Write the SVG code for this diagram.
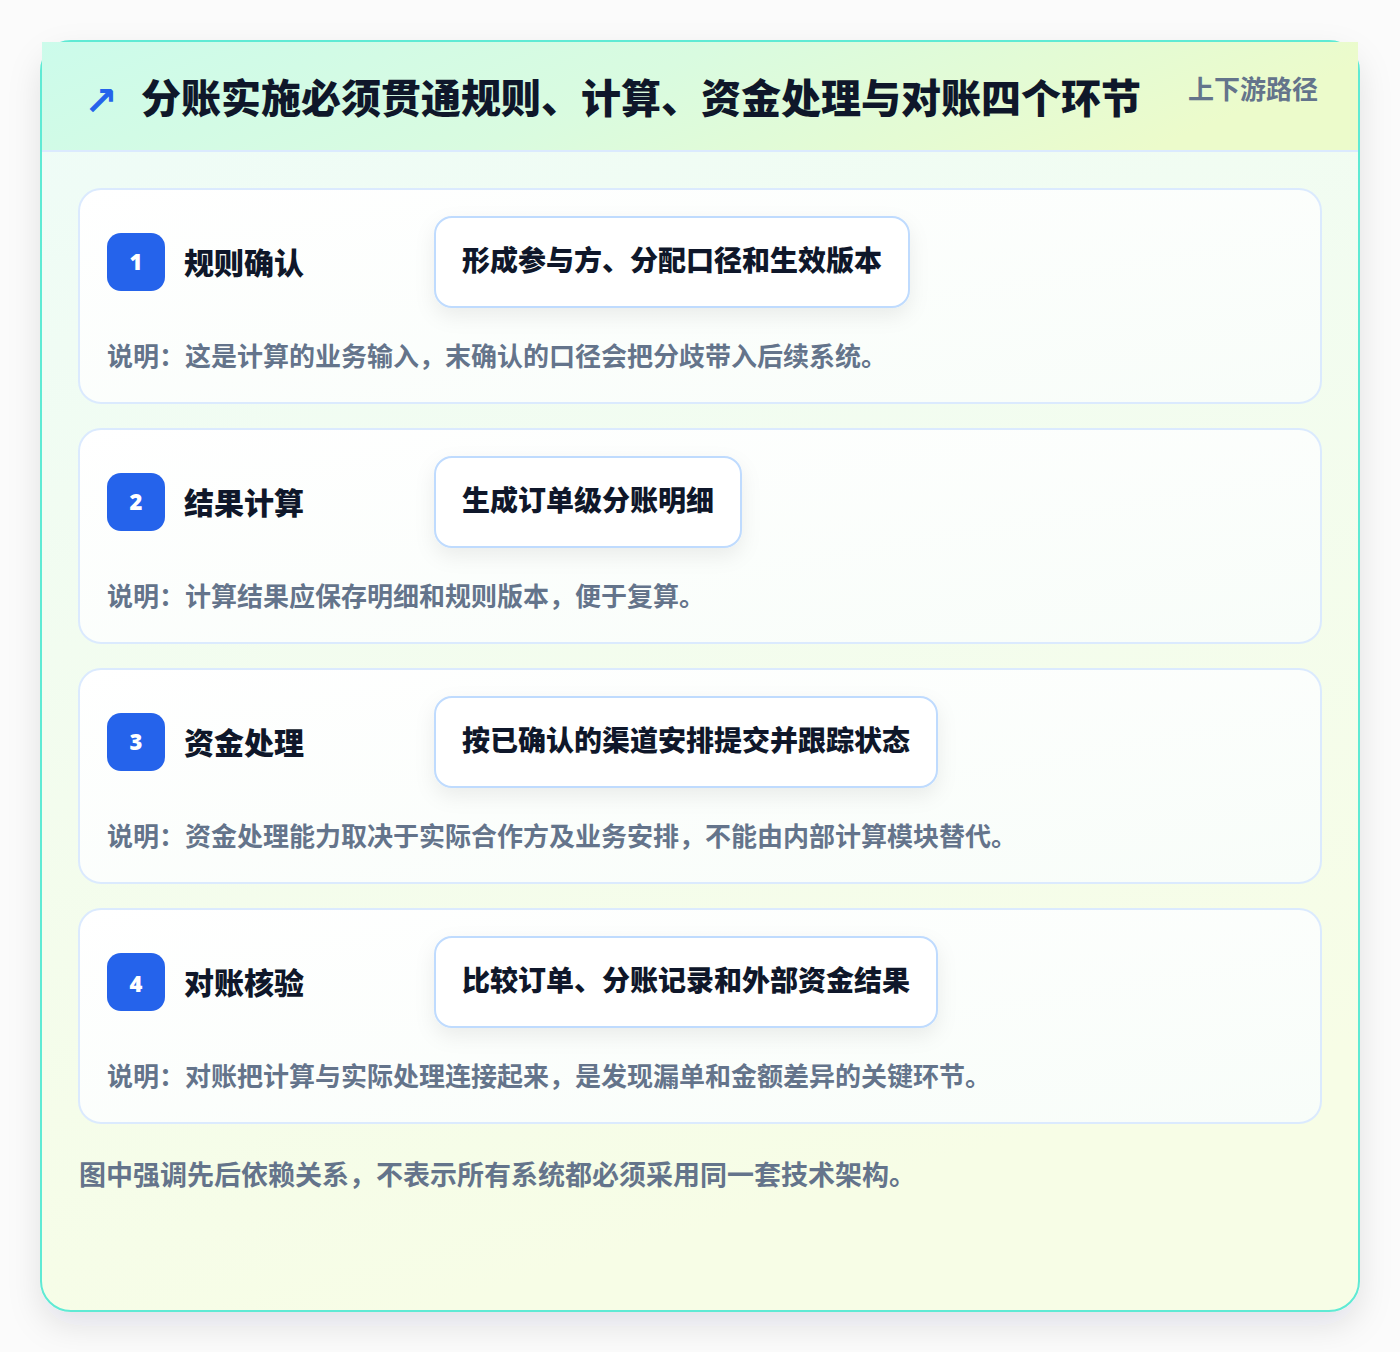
<svg xmlns="http://www.w3.org/2000/svg" width="1400" height="1352" viewBox="0 0 1400 1352">
  <defs>
    <linearGradient id="bodyGrad" x1="0" y1="0" x2="0.3" y2="1">
      <stop offset="0" stop-color="#eefcf8"/>
      <stop offset="1" stop-color="#f7fde6"/>
    </linearGradient>
    <linearGradient id="headGrad" x1="0" y1="0" x2="1" y2="0.2">
      <stop offset="0" stop-color="#ccfbeb"/>
      <stop offset="0.5" stop-color="#d9fbe0"/>
      <stop offset="1" stop-color="#ecfbcb"/>
    </linearGradient>
    <linearGradient id="cardGrad" x1="0" y1="0" x2="1" y2="1">
      <stop offset="0" stop-color="#ffffff"/>
      <stop offset="1" stop-color="#f8fdf9"/>
    </linearGradient>
    <filter id="outerShadow" x="-10%" y="-10%" width="120%" height="125%">
      <feDropShadow dx="0" dy="14" stdDeviation="16" flood-color="#0f172a" flood-opacity="0.10"/>
    </filter>
    <filter id="pillShadow" x="-20%" y="-40%" width="140%" height="200%">
      <feDropShadow dx="0" dy="8" stdDeviation="10" flood-color="#0f172a" flood-opacity="0.07"/>
    </filter>
  </defs>
  <style>
    .title { font-family: "Noto Sans CJK SC", "Noto Sans", sans-serif; font-weight: 900; font-size: 40px; fill: #0f172a; }
    .tag { font-family: "Noto Sans CJK SC", "Noto Sans", sans-serif; font-weight: 700; font-size: 26px; fill: #64748b; }
    .card { fill: url(#cardGrad); stroke: #dbeafe; stroke-width: 2; }
    .badge { fill: #2563eb; }
    .badgeNum { font-family: "Noto Sans", "Liberation Sans", sans-serif; font-weight: 900; font-size: 22px; fill: #ffffff; text-anchor: middle; }
    .stepName { font-family: "Noto Sans CJK SC", "Noto Sans", sans-serif; font-weight: 900; font-size: 30px; fill: #0f172a; }
    .pill { fill: #ffffff; stroke: #bfdbfe; stroke-width: 2; }
    .pillText { font-family: "Noto Sans CJK SC", "Noto Sans", sans-serif; font-weight: 900; font-size: 28px; fill: #0f172a; }
    .desc { font-family: "Noto Sans CJK SC", "Noto Sans", sans-serif; font-weight: 700; font-size: 26px; fill: #64748b; }
    .foot { font-family: "Noto Sans CJK SC", "Noto Sans", sans-serif; font-weight: 700; font-size: 27px; fill: #64748b; }
  </style>
  <rect x="0" y="0" width="1400" height="1352" fill="#fbfbfb"/>
  <g id="container">
    <rect x="41" y="41" width="1318" height="1270" rx="30" fill="url(#bodyGrad)" stroke="#5eead4" stroke-width="2" filter="url(#outerShadow)"/>
    <rect x="42" y="42" width="1316" height="109" fill="url(#headGrad)"/>
    <line x1="42" y1="151" x2="1358" y2="151" stroke="#dbeafe" stroke-width="2"/>
  </g>
  <g id="header">
    <text x="84" y="115" font-family="DejaVu Sans, sans-serif" font-size="40" font-weight="700" fill="#2563eb">↗</text>
    <text class="title" x="141" y="113">分账实施必须贯通规则、计算、资金处理与对账四个环节</text>
    <text class="tag" x="1188" y="99">上下游路径</text>
  </g>
  <g id="connectors"></g>
  <g id="step1">
    <rect class="card" x="79" y="189" width="1242" height="214" rx="22"/>
    <rect class="badge" x="107" y="233" width="58" height="58" rx="14"/>
    <text class="badgeNum" x="136" y="270">1</text>
    <text class="stepName" x="184" y="274">规则确认</text>
    <rect class="pill" x="435" y="217" width="474" height="90" rx="17" filter="url(#pillShadow)"/>
    <text class="pillText" x="462" y="271">形成参与方、分配口径和生效版本</text>
    <text class="desc" x="107" y="366">说明：这是计算的业务输入，末确认的口径会把分歧带入后续系统。</text>
  </g>
  <g id="step2">
    <rect class="card" x="79" y="429" width="1242" height="214" rx="22"/>
    <rect class="badge" x="107" y="473" width="58" height="58" rx="14"/>
    <text class="badgeNum" x="136" y="510">2</text>
    <text class="stepName" x="184" y="514">结果计算</text>
    <rect class="pill" x="435" y="457" width="306" height="90" rx="17" filter="url(#pillShadow)"/>
    <text class="pillText" x="462" y="511">生成订单级分账明细</text>
    <text class="desc" x="107" y="606">说明：计算结果应保存明细和规则版本，便于复算。</text>
  </g>
  <g id="step3">
    <rect class="card" x="79" y="669" width="1242" height="214" rx="22"/>
    <rect class="badge" x="107" y="713" width="58" height="58" rx="14"/>
    <text class="badgeNum" x="136" y="750">3</text>
    <text class="stepName" x="184" y="754">资金处理</text>
    <rect class="pill" x="435" y="697" width="502" height="90" rx="17" filter="url(#pillShadow)"/>
    <text class="pillText" x="462" y="751">按已确认的渠道安排提交并跟踪状态</text>
    <text class="desc" x="107" y="846">说明：资金处理能力取决于实际合作方及业务安排，不能由内部计算模块替代。</text>
  </g>
  <g id="step4">
    <rect class="card" x="79" y="909" width="1242" height="214" rx="22"/>
    <rect class="badge" x="107" y="953" width="58" height="58" rx="14"/>
    <text class="badgeNum" x="136" y="992">4</text>
    <text class="stepName" x="184" y="994">对账核验</text>
    <rect class="pill" x="435" y="937" width="502" height="90" rx="17" filter="url(#pillShadow)"/>
    <text class="pillText" x="462" y="991">比较订单、分账记录和外部资金结果</text>
    <text class="desc" x="107" y="1086">说明：对账把计算与实际处理连接起来，是发现漏单和金额差异的关键环节。</text>
  </g>
  <g id="footnote">
    <text class="foot" x="79" y="1185">图中强调先后依赖关系，不表示所有系统都必须采用同一套技术架构。</text>
  </g>
</svg>
